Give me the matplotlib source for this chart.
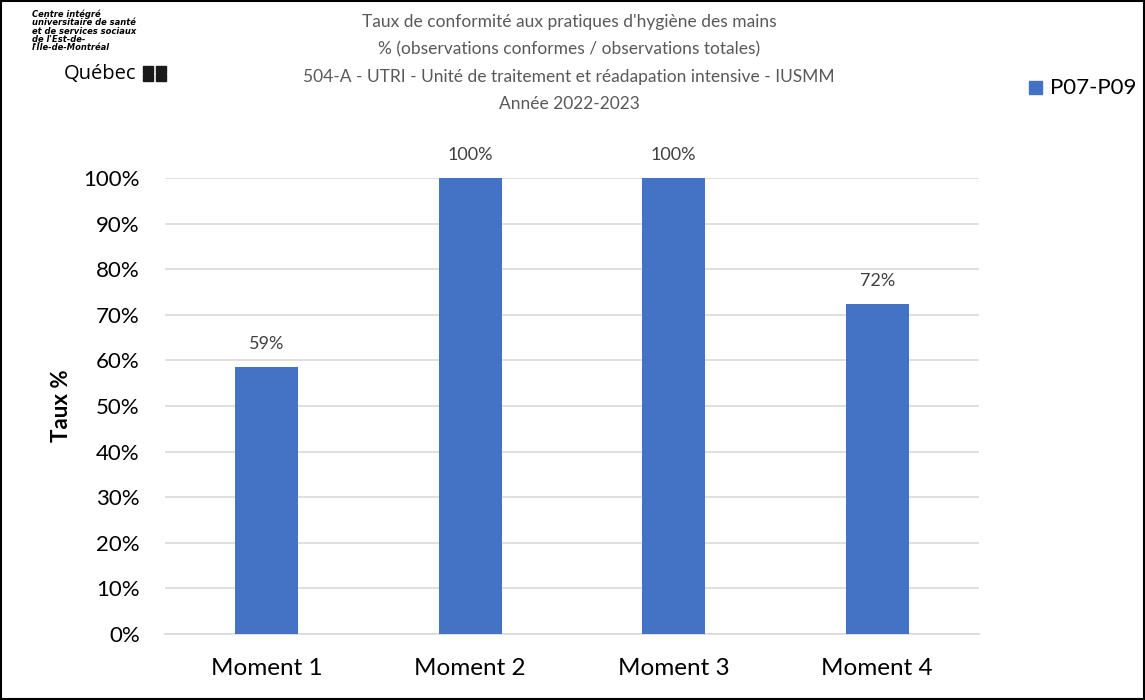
import matplotlib.pyplot as plt
from matplotlib.patches import Rectangle
from matplotlib.ticker import FuncFormatter

categories = ['Moment 1', 'Moment 2', 'Moment 3', 'Moment 4']
taux = [58.6, 100, 100, 72.4]
labels = ['59%', '100%', '100%', '72%']
series_name = 'P07-P09'
title_lines = ["Taux de conformité aux pratiques d'hygiène des mains",
               "% (observations conformes / observations totales)",
               "504-A - UTRI - Unité de traitement et réadapation intensive - IUSMM",
               "Année 2022-2023"]

plt.rcParams['font.family'] = ['Lato', 'DejaVu Sans']
bar_color = '#4472C4'
grey = '#595959'

fig = plt.figure(figsize=(11.45, 7), dpi=100)
ax = fig.add_axes([0.144, 0.0943, 0.711, 0.6514])

x = range(len(categories))
bars = ax.bar(x, taux, width=0.31, color=bar_color, zorder=3, label=series_name)
for b, lab in zip(bars, labels):
    ax.text(b.get_x() + b.get_width() / 2, b.get_height() + 3.2, lab,
            ha='center', va='bottom', fontsize=13, color='#404040', clip_on=False)

ax.set_xlim(-0.5, len(categories) - 0.5)
ax.set_ylim(0, 100)
ax.set_yticks(range(0, 101, 10))
ax.yaxis.set_major_formatter(FuncFormatter(lambda v, p: f'{int(v)}%'))
ax.set_xticks(list(x))
ax.set_xticklabels(categories)
ax.tick_params(axis='y', length=0, labelsize=16, pad=18)
ax.tick_params(axis='x', length=0, labelsize=17.5, pad=17)
ax.grid(axis='y', color='#d9d9d9', linewidth=1.2, zorder=0)
for s in ['top', 'right', 'left']:
    ax.spines[s].set_visible(False)
ax.spines['bottom'].set_color('#d9d9d9')
ax.spines['bottom'].set_linewidth(1.2)
ax.set_ylabel('Taux %', fontsize=16, fontweight='bold', labelpad=8)

# titre
for i, line in enumerate(title_lines):
    fig.text(0.497, 1 - (22 + 27.3 * i) / 700, line, ha='center', va='center',
             fontsize=12.5, color=grey)

# légende
fig.patches.append(Rectangle((1029 / 1145, 1 - 94 / 700), 13 / 1145, 13 / 700,
                             transform=fig.transFigure, color=bar_color))
fig.text(1050 / 1145, 1 - 88 / 700, series_name, ha='left', va='center', fontsize=16)

# logo
logo_lines = ['Centre intégré', 'universitaire de santé', 'et de services sociaux',
              "de l'Est-de-", "l'Île-de-Montréal"]
for i, line in enumerate(logo_lines):
    fig.text(32 / 1145, 1 - (14 + 8.5 * i) / 700, line, ha='left', va='center',
             fontsize=6, fontweight='bold', style='italic', family=['DejaVu Sans'])
fig.text(64 / 1145, 1 - 74 / 700, 'Québec', ha='left', va='center', fontsize=14.5,
         family=['Open Sans'])
for dx in (0, 13):
    for dy in (0, 8):
        fig.patches.append(Rectangle(((143 + dx) / 1145, 1 - (73 + dy) / 700), 10 / 1145, 7 / 700,
                                     transform=fig.transFigure, color='#1a1a1a'))

# cadre
fig.patches.append(Rectangle((0.001, 0.001), 0.998, 0.998, transform=fig.transFigure,
                             fill=False, edgecolor='black', linewidth=1.5))

fig.savefig('out.png', dpi=100)
